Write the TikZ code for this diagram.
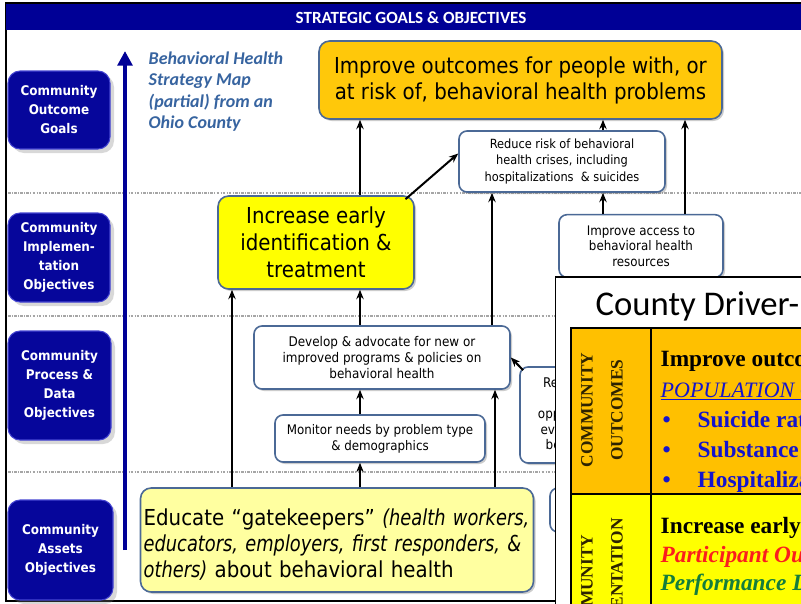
\documentclass[tikz,border=0pt]{standalone}
\usepackage{fontspec}
\setmainfont{DejaVu Sans Condensed}
\newfontfamily\narrowit[FakeStretch=0.9]{DejaVu Sans Condensed}
\newfontfamily\carl{Carlito}
\newfontfamily\tms{Liberation Serif}
\usetikzlibrary{arrows.meta,shadows,calc}

\definecolor{cBar}{RGB}{0,0,150}
\definecolor{cLbl}{RGB}{6,6,155}
\definecolor{cLblEdge}{RGB}{70,70,210}
\definecolor{cEdge}{RGB}{75,105,150}
\definecolor{cMap}{RGB}{55,100,160}
\definecolor{cGold}{RGB}{255,200,10}
\definecolor{cYel}{RGB}{255,255,0}
\definecolor{cPale}{RGB}{255,255,160}
\definecolor{cTabOr}{RGB}{255,192,0}
\definecolor{cTabYel}{RGB}{255,255,0}
\definecolor{cTabDk}{RGB}{45,35,0}
\definecolor{cTabBlue}{RGB}{20,20,205}
\definecolor{cTabRed}{RGB}{250,30,30}
\definecolor{cTabGreen}{RGB}{20,125,60}

\tikzset{
  conn/.style={draw=black, line width=1.5pt, -{Stealth[length=7pt,width=5.5pt]}},
  lbl/.style={draw=cLblEdge, line width=0.8pt, fill=cLbl, rounded corners=9pt,
    text=white, align=center, inner sep=0pt,
    font=\bfseries\fontsize{10}{14.25}\selectfont,
    drop shadow={shadow xshift=3pt, shadow yshift=-3pt, opacity=0.3, fill=gray}},
  wbox/.style={draw=cEdge, line width=1.2pt, fill=white, rounded corners=6pt,
    align=center, inner sep=0pt,
    drop shadow={shadow xshift=1.5pt, shadow yshift=-1.5pt, opacity=0.4, fill=gray}},
  bigbox/.style={wbox, rounded corners=8pt},
  sep/.style={draw=gray!70, line width=0.8pt,
    dash pattern=on 2pt off 1pt on 0.6pt off 1pt},
  tabtxt/.style={anchor=base west, font=\tms\bfseries\fontsize{17.5}{17.5}\selectfont},
  tabit/.style={tabtxt, font=\tms\bfseries\itshape\fontsize{17.5}{17.5}\selectfont},
}

\begin{document}
\begin{tikzpicture}[x=0.75pt, y=-0.75pt]
\useasboundingbox (0,0) rectangle (801,604);
\fill[white] (0,0) rectangle (801,604);

% frame and title bar
\draw[line width=1.3pt] (6,3) rectangle (812,601);
\fill[cBar] (6,4) rectangle (812,30);
\node[text=white, font=\carl\bfseries\fontsize{12.8}{12.8}\selectfont] (title) at (411,17.5)
  {STRATEGIC GOALS \& OBJECTIVES};

% level separators
\draw[sep] (8,193) -- (801,193);
\draw[sep] (8,316) -- (801,316);
\draw[sep] (8,472) -- (801,472);

% level labels
\node[lbl, minimum width=76.5pt, minimum height=58.5pt] (l1) at (59,110)
  {Community\\Outcome\\Goals};
\node[lbl, minimum width=76.5pt, minimum height=66.75pt] (l2) at (59,257.5)
  {Community\\Implemen-\\tation\\Objectives};
\node[lbl, minimum width=77.25pt, minimum height=81.75pt] (l3) at (59.5,385.5)
  {Community\\Process \&\\Data\\Objectives};
\node[lbl, minimum width=78.75pt, minimum height=75pt] (l4) at (60.5,550)
  {Community\\Assets\\Objectives};

% upward axis
\coordinate (axlo) at (125,550);
\coordinate (axhi) at (125,51);
\draw[cBar, line width=3pt, -{Triangle[length=11pt,width=11pt]}] (axlo) -- (axhi);

\node[anchor=north west, text=cMap, align=left,
  font=\carl\bfseries\itshape\fontsize{13.5}{16}\selectfont] (cap) at (144,47)
  {Behavioral Health\\Strategy Map\\(partial) from an\\Ohio County};

% strategy boxes
\node[bigbox, fill=cGold, minimum width=302.25pt, minimum height=58.5pt,
  font=\fontsize{16.5}{19.5}\selectfont] (org) at (520.5,80)
  {Improve outcomes for people with, or\\at risk of, behavioral health problems};
\node[wbox, minimum width=154.5pt, minimum height=45.75pt,
  font=\fontsize{9.5}{12.4}\selectfont] (red) at (562,161.5)
  {Reduce risk of behavioral\\health crises, including\\hospitalizations \ \& suicides};
\node[bigbox, fill=cYel, minimum width=147pt, minimum height=69.75pt,
  font=\fontsize{16.5}{20.2}\selectfont] (yel) at (316,242.5)
  {Increase early\\identification \&\\treatment};
\node[wbox, minimum width=123pt, minimum height=47pt,
  font=\fontsize{9.9}{11.6}\selectfont] (acc) at (641,246)
  {Improve access to\\behavioral health\\resources};
\node[wbox, minimum width=192pt, minimum height=47.25pt,
  font=\fontsize{10}{12}\selectfont] (dev) at (382,357.5)
  {Develop \& advocate for new or\\improved programs \& policies on\\behavioral health};
\node[wbox, minimum width=157.5pt, minimum height=35.25pt,
  font=\fontsize{9.9}{12}\selectfont] (mon) at (380,438.5)
  {Monitor needs by problem type\\\& demographics};
\node[wbox, minimum width=102pt, minimum height=72pt,
  font=\fontsize{10}{11.6}\selectfont] (rev) at (588,415)
  {Review current\\and new\\opportunities for\\evidence-based\\best practices};
\node[wbox, minimum width=60pt, minimum height=33pt] (side) at (590,510) {};
\node[bigbox, fill=cPale, minimum width=294.75pt, minimum height=78pt] (edu) at (337,540) {};
\node[text width=290pt, align=left, inner sep=0pt,
  font=\fontsize{16.5}{19.5}\selectfont] (edutxt) at ([yshift=-3.8pt]edu.center)
  {Educate “gatekeepers” {\narrowit\itshape (health workers,}\\
   {\narrowit\itshape educators, employers, first responders, \&}\\
   {\narrowit\itshape others)} about behavioral health};

% connector columns
\coordinate (ca) at (360,0);
\coordinate (cb) at (603,0);
\coordinate (cc) at (685,0);
\coordinate (cd) at (232,0);
\coordinate (ce) at (492,0);
\coordinate (cf) at (495,0);

\draw[conn] (yel.north -| ca) -- (org.south -| ca);
\draw[conn] (red.north -| cb) -- (org.south -| cb);
\draw[conn] (acc.north -| cc) -- (org.south -| cc);
\draw[conn] (acc.north -| cb) -- (red.south -| cb);
\draw[conn] ([shift={(-7pt,-3pt)}]yel.north east) -- ([yshift=6pt]red.west);
\draw[conn] (edu.north -| cd) -- (yel.south -| cd);
\draw[conn] (dev.north -| ca) -- (yel.south -| ca);
\draw[conn] (dev.north -| ce) -- (red.south -| ce);
\draw[conn] (mon.north -| ca) -- (dev.south -| ca);
\draw[conn] (edu.north -| ca) -- (mon.south -| ca);
\draw[conn] (edu.north -| cf) -- (dev.south -| cf);
\draw[conn] ([shift={(3pt,-3pt)}]rev.north west) -- (dev.east);

% driver table overlay
\begin{scope}
\clip (555,276) rectangle (801,604);
\draw[line width=1.5pt, fill=white] (555,277) rectangle (830,640);
\node[anchor=base west, font=\carl\fontsize{26}{26}\selectfont] (dtitle) at (591,315)
  {County Driver-};
\fill[cTabOr] (571,328) rectangle (830,494);
\fill[cTabYel] (571,494) rectangle (830,640);
\draw[line width=1.2pt] (571,640) -- (571,328) -- (830,328);
\draw[line width=1.2pt] (651,328) -- (651,640);
\draw[line width=1.2pt] (571,494) -- (830,494);
\begin{scope}[every node/.style={rotate=90, text=cTabDk,
    font=\tms\bfseries\fontsize{13}{13}\selectfont}]
  \node (rc1) at (587,410) {COMMUNITY};
  \node (rc2) at (617,410) {OUTCOMES};
  \node (rc3) at (587,592) {COMMUNITY};
  \node (rc4) at (617,600) {IMPLEMENTATION};
\end{scope}
\node[tabtxt] (t1) at (656,366) {Improve outcomes};
\node[tabtxt, text=cTabBlue, font=\tms\itshape\fontsize{16.5}{16.5}\selectfont] (t2) at (656,397)
  {\underline{POPULATION OUTCOMES}};
\node[tabtxt, text=cTabBlue] (b1) at (658,427) {•};
\node[tabtxt, text=cTabBlue] (t3) at (693,427) {Suicide rate};
\node[tabtxt, text=cTabBlue] (b2) at (658,457) {•};
\node[tabtxt, text=cTabBlue] (t4) at (693,457) {Substance abuse};
\node[tabtxt, text=cTabBlue] (b3) at (658,487) {•};
\node[tabtxt, text=cTabBlue] (t5) at (693,487) {Hospitalizations};
\node[tabtxt] (t6) at (656,533) {Increase early identification};
\node[tabit, text=cTabRed] (t7) at (656,562) {Participant Outcomes};
\node[tabit, text=cTabGreen] (t8) at (656,590) {Performance Data};
\end{scope}
\end{tikzpicture}
\end{document}
